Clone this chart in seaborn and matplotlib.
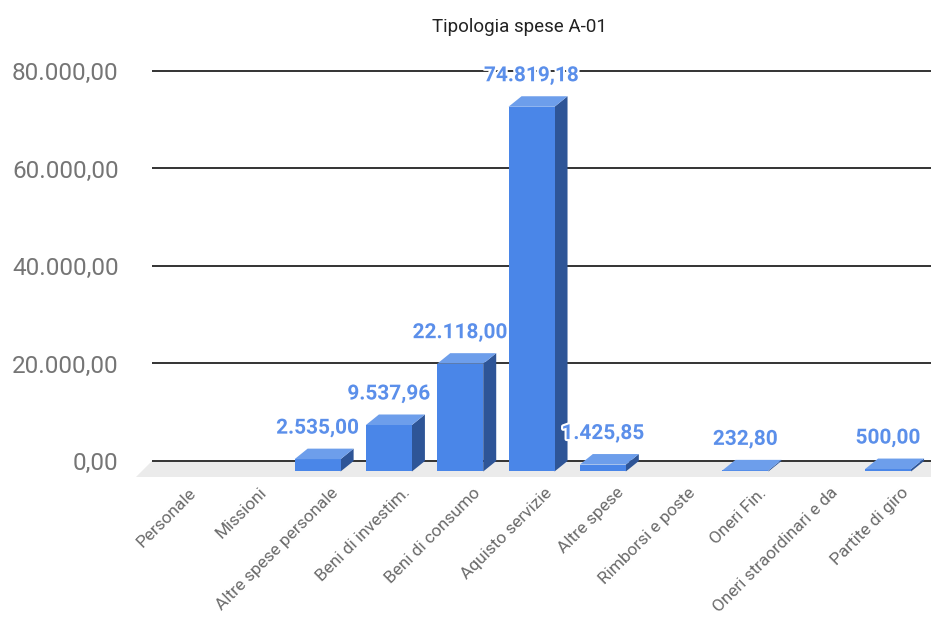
import matplotlib
matplotlib.use('Agg')
import matplotlib.pyplot as plt
import matplotlib.patheffects as pe
from matplotlib.patches import Polygon
import pandas as pd
import seaborn as sns

# --- dati ---
categories = ['Personale', 'Missioni', 'Altre spese personale', 'Beni di investim.',
              'Beni di consumo', 'Aquisto servizie', 'Altre spese', 'Rimborsi e poste',
              'Oneri Fin.', 'Oneri straordinari e da', 'Partite di giro']
values = [0, 0, 2535.00, 9537.96, 22118.00, 74819.18, 1425.85, 0, 232.80, 0, 500.00]
y_ticks = [0, 20000, 40000, 60000, 80000]
title = 'Tipologia spese A-01'


def fmt_it(v):
    # formato italiano: 74.819,18
    s = f'{v:,.2f}'
    return s.replace(',', '#').replace('.', ',').replace('#', '.')


df = pd.DataFrame({'categoria': categories, 'importo': values})

# colori delle facce
c_front = '#4a86e8'
c_side = '#2e5597'
c_top = '#6d9eeb'
c_label = '#5b8fea'

sns.set_style('white')
plt.rcParams['font.family'] = ['Roboto', 'DejaVu Sans']

fig = plt.figure(figsize=(9.31, 6.2), dpi=100)
ax = fig.add_axes([0.16327, 0.22894, 0.83673, 0.67227])

sns.barplot(data=df, x='categoria', y='importo', color=c_front, width=0.645,
            saturation=1, ax=ax, zorder=3)

ax.set_xlim(-0.505, 10.42)
ax.set_ylim(-3500, 82000)

# profondita' 3D (spostamento faccia anteriore)
DX = 13 / 71.3
DY = 10.5 * 80000 / 390

for p, v in zip(ax.patches, values):
    x0 = p.get_x()
    w = p.get_width()
    p.set_x(x0 - DX)
    p.set_y(-DY)
    p.set_linewidth(0)
    p.set_clip_on(False)
    if v <= 0:
        p.set_visible(False)
        continue
    fx0, fx1 = x0 - DX, x0 - DX + w
    side = Polygon([(fx1, -DY), (fx1 + DX, 0), (fx1 + DX, v), (fx1, v - DY)],
                   closed=True, facecolor=c_side, edgecolor='none', zorder=2.9, clip_on=False)
    top = Polygon([(fx0, v - DY), (fx1, v - DY), (fx1 + DX, v), (fx0 + DX, v)],
                  closed=True, facecolor=c_top, edgecolor='none', zorder=3.1, clip_on=False)
    ax.add_patch(side)
    ax.add_patch(top)
    ax.annotate(fmt_it(v), xy=(fx0 + w / 2, v), xytext=(0, 10.8), textcoords='offset points',
                ha='center', va='baseline', fontsize=15, fontweight='bold', color=c_label,
                zorder=5, path_effects=[pe.withStroke(linewidth=3, foreground='white')])

# pavimento
xl0, xl1 = ax.get_xlim()
floor = Polygon([(xl0, 0), (xl1 + 1, 0), (xl1 + 1, -3300), (xl0 - 16 / 71.3, -3300)],
                closed=True, facecolor='#ebebeb', edgecolor='none', zorder=0.5, clip_on=False)
ax.add_patch(floor)

ax.set_yticks(y_ticks)
ax.set_yticklabels([fmt_it(t) for t in y_ticks])
ax.yaxis.grid(True, color='#333333', linewidth=1.4, zorder=1)
ax.xaxis.grid(False)
ax.set_axisbelow(True)
for s in ax.spines.values():
    s.set_visible(False)

ax.set_xticks(range(len(categories)))
ax.set_xticklabels(categories, rotation=45, ha='right', rotation_mode='anchor',
                   color='#6a6a6a', fontsize=12.4)
ax.tick_params(axis='x', length=0, pad=5)
ax.tick_params(axis='y', length=0, pad=24, labelsize=17.5, labelcolor='#757575')
ax.set_xlabel('')
ax.set_ylabel('')

fig.text(0.558, 0.9565, title, ha='center', va='center', fontsize=13.5, color='#222222')

fig.savefig('out.png', dpi=100)
